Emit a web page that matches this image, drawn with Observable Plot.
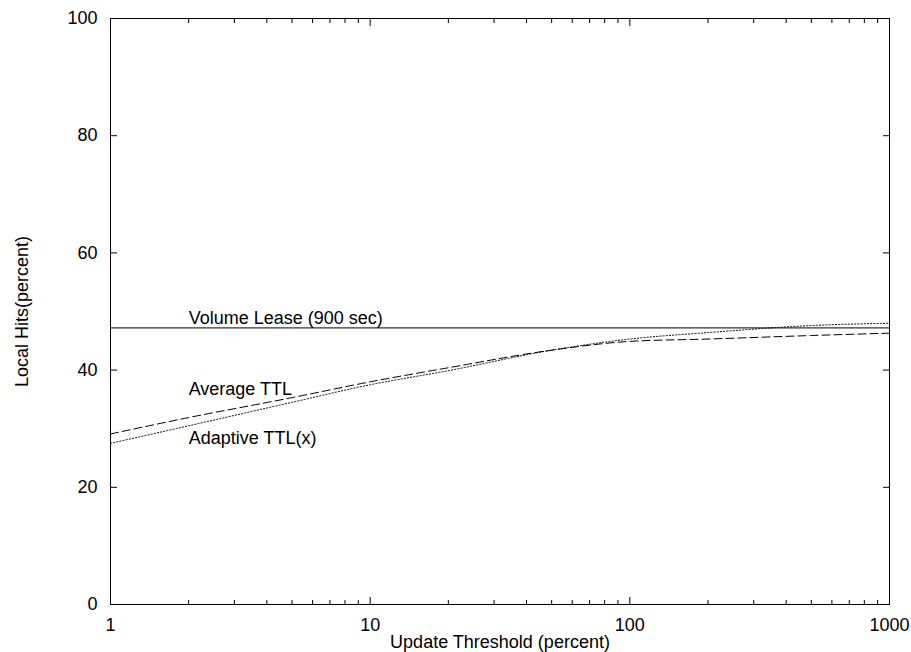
<!DOCTYPE html>
<html><head><meta charset="utf-8">
<script src="https://cdn.jsdelivr.net/npm/d3@7"></script>
<script src="https://cdn.jsdelivr.net/npm/@observablehq/plot@0.6"></script>
<style>body{margin:0;background:#fff}</style>
</head><body><div id="chart"></div>
<script>
const thresholds = [1, 2, 5, 10, 20, 50, 100, 200, 500, 1000];
const averageTTL = [29.1, 31.9, 35.3, 38.0, 40.4, 43.4, 44.9, 45.3, 45.9, 46.3];
const adaptiveTTL = [27.5, 30.5, 34.5, 37.5, 39.9, 43.4, 45.3, 46.4, 47.6, 48.0];
const volumeLease = 47.2;
const xMajorTicks = [1, 10, 100, 1000];
const xMinorTicks = [2,3,4,5,6,7,8,9,20,30,40,50,60,70,80,90,200,300,400,500,600,700,800,900];
const yTicks = [0, 20, 40, 60, 80, 100];
const labelNames = ["Volume Lease (900 sec)", "Average TTL", "Adaptive TTL(x)"];
const labelX = [2, 2, 2];
const labelY = [48.85, 36.75, 28.4];

const avgData = thresholds.map((t, i) => ({x: t, y: averageTTL[i]}));
const adpData = thresholds.map((t, i) => ({x: t, y: adaptiveTTL[i]}));
const labels = labelNames.map((t, i) => ({text: t, x: labelX[i], y: labelY[i]}));

const font = "'Liberation Sans', Arial, Helvetica, sans-serif";
const blank = () => "";
const fs = 18;

const chart = Plot.plot({
  width: 911,
  height: 652,
  marginLeft: 110,
  marginRight: 22,
  marginTop: 18,
  marginBottom: 48,
  style: {fontFamily: font, fontSize: fs + "px", color: "#000", background: "#fff"},
  x: {type: "log", domain: [1, 1000]},
  y: {domain: [0, 100]},
  marks: [
    // inward ticks on all sides
    Plot.axisX(xMajorTicks, {anchor: "bottom", tickSize: -7, tickFormat: blank, label: null}),
    Plot.axisX(xMajorTicks, {anchor: "top", tickSize: -7, tickFormat: blank, label: null}),
    Plot.axisX(xMinorTicks, {anchor: "bottom", tickSize: -4, tickFormat: blank, label: null}),
    Plot.axisX(xMinorTicks, {anchor: "top", tickSize: -4, tickFormat: blank, label: null}),
    Plot.axisY(yTicks, {anchor: "left", tickSize: -7, tickFormat: blank, label: null}),
    Plot.axisY(yTicks, {anchor: "right", tickSize: -7, tickFormat: blank, label: null}),
    // tick labels and axis titles
    Plot.axisX(xMajorTicks, {anchor: "bottom", tickSize: 0, tickPadding: 14, fontSize: fs, tickFormat: d => String(d),
      label: "Update Threshold (percent)", labelAnchor: "center", labelArrow: "none", labelOffset: 43}),
    Plot.axisY(yTicks, {anchor: "left", tickSize: 0, tickPadding: 13, fontSize: fs, tickFormat: d => String(d),
      label: "Local Hits(percent)", labelAnchor: "center", labelArrow: "none", labelOffset: 95}),
    Plot.frame({stroke: "#000", strokeWidth: 1}),
    Plot.ruleY([volumeLease], {stroke: "#000", strokeWidth: 1}),
    Plot.line(avgData, {x: "x", y: "y", curve: "monotone-x", stroke: "#000", strokeWidth: 1, strokeDasharray: "8,4"}),
    Plot.line(adpData, {x: "x", y: "y", curve: "monotone-x", stroke: "#000", strokeWidth: 1, strokeDasharray: "1.2,2"}),
    Plot.text(labels, {x: "x", y: "y", text: "text", textAnchor: "start", fontSize: fs, fill: "#000"})
  ]
});
document.getElementById("chart").appendChild(chart);
</script>
</body></html>
